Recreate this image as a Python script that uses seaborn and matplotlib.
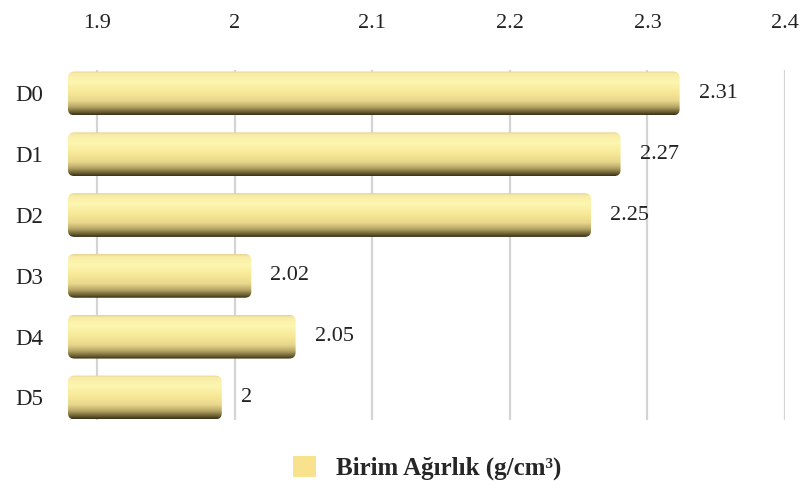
import numpy as np
import pandas as pd
import seaborn as sns
import matplotlib
matplotlib.use('Agg')
import matplotlib.pyplot as plt
from matplotlib.colors import LinearSegmentedColormap
from matplotlib.patches import FancyBboxPatch, Patch

# data
samples = ['D0', 'D1', 'D2', 'D3', 'D4', 'D5']
values = [2.31, 2.27, 2.25, 2.02, 2.05, 2.00]
value_labels = ['2.31', '2.27', '2.25', '2.02', '2.05', '2']
ticks = [1.9, 2.0, 2.1, 2.2, 2.3, 2.4]
tick_labels = ['1.9', '2', '2.1', '2.2', '2.3', '2.4']
series_name = 'Birim Ağırlık (g/cm³)'

df = pd.DataFrame({'sample': samples, 'value': values})

sns.set_theme(style='white')
plt.rcParams['font.family'] = ['Liberation Serif', 'DejaVu Serif']

fig = plt.figure(figsize=(8.03, 4.9), dpi=100)
ax = fig.add_axes([68 / 803, 70 / 490, 717 / 803, 350 / 490])

sns.barplot(data=df, x='value', y='sample', color='#F5E28E', width=0.72,
            ax=ax, saturation=1)

# back plane: gridlines + top tick labels (the 3d chart puts them on a different scale)
ax2 = ax.twiny()
ax2.set_xlim(1.8789, 2.4)
ax2.set_xticks(ticks)
ax2.set_xticklabels(tick_labels, fontsize=16, color='#222222')
ax2.xaxis.set_ticks_position('top')
ax2.tick_params(axis='x', length=0, pad=27)
for t in ticks:
    ax2.axvline(t, color='#d4d4d4', lw=1.6, zorder=0)
for s in ax2.spines.values():
    s.set_visible(False)

ax.set_zorder(ax2.get_zorder() + 1)
ax.patch.set_visible(False)

# front plane for the bars
ax.set_xlim(1.8959, 1.8959 + 717 / 1477)
ax.set_ylim(5.37, -0.385)
ax.set_xticks([])
ax.set_xlabel('')
ax.set_ylabel('')
ax.tick_params(axis='y', length=0, pad=18, labelsize=16.5, labelcolor='#222222')
for s in ax.spines.values():
    s.set_visible(False)

# cylinder shading
shade = LinearSegmentedColormap.from_list('cyl', [
    (0.00, '#e6d492'),
    (0.06, '#f8eda6'),
    (0.25, '#fdf6b0'),
    (0.50, '#f6e795'),
    (0.68, '#e8d68c'),
    (0.82, '#b5a565'),
    (0.93, '#6e6133'),
    (1.00, '#3a3118'),
])
grad = np.linspace(0, 1, 200).reshape(-1, 1)
x_left = ax.get_xlim()[0]
for bar, lab in zip(ax.patches, value_labels):
    y0 = bar.get_y()
    h = bar.get_height()
    x1 = bar.get_width()
    bar.set_visible(False)
    clip = FancyBboxPatch((x_left, y0), x1 - x_left, h,
                          boxstyle='round,pad=0,rounding_size=0.0045',
                          mutation_aspect=22, transform=ax.transData)
    im = ax.imshow(grad, cmap=shade, aspect='auto', origin='upper',
                   extent=(x_left, x1, y0 + h, y0), zorder=3)
    im.set_clip_path(clip)
    ax.text(x1 + 0.013, y0 + h / 2, lab, va='center', ha='left',
            fontsize=16, color='#222222', zorder=4)

ax.set_xlim(1.8959, 1.8959 + 717 / 1477)
ax.set_ylim(5.37, -0.385)

fig.legend(handles=[Patch(facecolor='#F8E28E', edgecolor='none')],
           labels=[series_name], loc='center', bbox_to_anchor=(0.532, 0.045),
           frameon=False, handlelength=0.92, handleheight=0.92, handletextpad=0.8,
           prop={'family': ['Liberation Serif', 'DejaVu Serif'], 'weight': 'bold', 'size': 18})

fig.savefig('out.png', dpi=100)
